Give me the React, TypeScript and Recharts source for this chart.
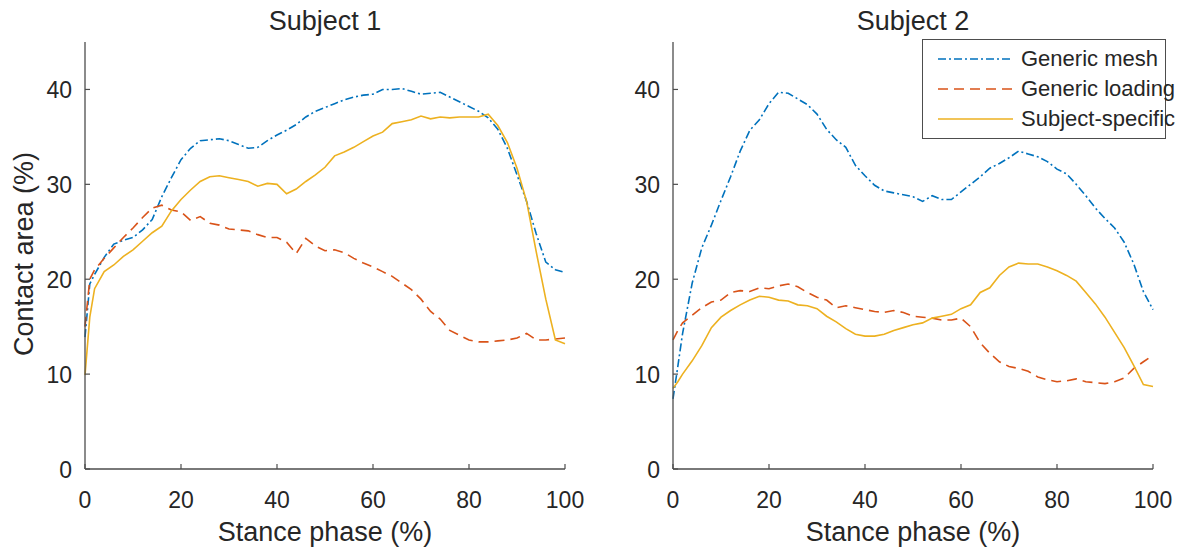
import React from 'react';
import { LineChart, Line, XAxis, YAxis, Legend } from 'recharts';

// stance phase samples (%)
const phase = [0, 1, 2, 4, 6, 8, 10, 12, 14, 16, 18, 20, 22, 24, 26, 28, 30, 32, 34, 36, 38, 40, 42, 44, 46, 48, 50,
  52, 54, 56, 58, 60, 62, 64, 66, 68, 70, 72, 74, 76, 78, 80, 82, 84, 86, 88, 90, 92, 94, 96, 98, 100];

// Subject 1 contact area (%)
const s1Mesh = [13.9, 19.5, 20.5, 22.3, 23.7, 24.1, 24.4, 25.2, 26.3, 28.7, 30.7, 32.6, 33.8, 34.6, 34.7, 34.8, 34.6,
  34.2, 33.8, 33.9, 34.6, 35.2, 35.7, 36.3, 37.1, 37.7, 38.1, 38.5, 38.9, 39.2, 39.4, 39.5, 40.0, 40.0, 40.1, 39.8,
  39.5, 39.6, 39.7, 39.2, 38.7, 38.2, 37.7, 37.0, 35.8, 33.8, 31.0, 28.2, 24.8, 21.8, 21.0, 20.7];
const s1Loading = [15.0, 20.0, 21.0, 22.2, 23.3, 24.4, 25.4, 26.5, 27.5, 27.8, 27.3, 27.1, 26.2, 26.6, 25.9, 25.7, 25.3,
  25.2, 25.1, 24.7, 24.4, 24.4, 23.9, 22.7, 24.3, 23.5, 23.0, 23.1, 22.8, 22.2, 21.7, 21.3, 20.8, 20.3, 19.6, 18.9,
  17.9, 16.6, 15.8, 14.6, 14.1, 13.6, 13.4, 13.4, 13.5, 13.6, 13.8, 14.3, 13.6, 13.6, 13.7, 13.8];
const s1Specific = [9.9, 16.0, 19.0, 20.8, 21.5, 22.4, 23.1, 24.0, 24.9, 25.6, 27.2, 28.4, 29.4, 30.3, 30.8, 30.9, 30.7,
  30.5, 30.3, 29.8, 30.1, 30.0, 29.0, 29.5, 30.3, 31.0, 31.8, 33.0, 33.4, 33.9, 34.5, 35.1, 35.5, 36.4, 36.6, 36.8,
  37.2, 36.9, 37.1, 37.0, 37.1, 37.1, 37.1, 37.4, 36.2, 34.4, 31.7, 28.2, 22.9, 17.9, 13.6, 13.2];

// Subject 2 contact area (%)
const s2Mesh = [7.4, 10.8, 14.3, 19.6, 23.3, 25.7, 28.3, 30.8, 33.5, 35.7, 36.8, 38.5, 39.7, 39.6, 39.0, 38.4, 37.4,
  35.8, 34.7, 33.9, 32.0, 30.9, 29.9, 29.3, 29.1, 28.9, 28.7, 28.2, 28.8, 28.4, 28.4, 29.2, 30.0, 30.8, 31.7, 32.2,
  32.8, 33.5, 33.2, 32.9, 32.4, 31.6, 31.1, 30.0, 28.8, 27.5, 26.4, 25.4, 23.9, 21.6, 18.7, 16.8];
const s2Loading = [13.6, 14.6, 15.4, 16.2, 17.0, 17.6, 17.8, 18.6, 18.8, 18.7, 19.1, 19.0, 19.3, 19.5, 19.2, 18.6, 18.1,
  17.8, 17.0, 17.2, 17.0, 16.8, 16.6, 16.5, 16.7, 16.5, 16.1, 16.0, 15.9, 15.7, 15.7, 15.9, 15.0, 13.3, 12.2, 11.3,
  10.8, 10.6, 10.3, 9.7, 9.4, 9.2, 9.3, 9.5, 9.2, 9.1, 9.0, 9.2, 9.6, 10.6, 11.3, 12.0];
const s2Specific = [8.5, 9.2, 10.0, 11.4, 13.0, 14.9, 16.0, 16.7, 17.3, 17.8, 18.2, 18.1, 17.8, 17.7, 17.3, 17.2, 16.9,
  16.1, 15.5, 14.8, 14.2, 14.0, 14.0, 14.2, 14.6, 14.9, 15.2, 15.4, 15.9, 16.1, 16.3, 16.9, 17.3, 18.6, 19.1, 20.4,
  21.3, 21.7, 21.6, 21.6, 21.3, 20.9, 20.4, 19.8, 18.6, 17.4, 16.0, 14.4, 12.8, 10.9, 8.9, 8.7];

const xTicks = [0, 20, 40, 60, 80, 100];
const yTicks = [0, 10, 20, 30, 40];
const seriesNames = ['Generic mesh', 'Generic loading', 'Subject-specific'];
const titles = ['Subject 1', 'Subject 2'];

const FONT = '"Liberation Sans", Arial, Helvetica, sans-serif';
const INK = '#262626';
const AXIS = '#4d4d4d';

const series = [
  { key: 'mesh', name: seriesNames[0], color: '#0072BD', dash: '8 3 2 3' },
  { key: 'loading', name: seriesNames[1], color: '#D95319', dash: '10 6' },
  { key: 'specific', name: seriesNames[2], color: '#EDB120', dash: undefined as string | undefined },
];

const buildRows = (mesh: number[], loading: number[], specific: number[]) =>
  phase.map((p, i) => ({ phase: p, mesh: mesh[i], loading: loading[i], specific: specific[i] }));

const XTick = (props: any) => {
  const { x, y, payload } = props;
  return (
    <g>
      <line x1={x} x2={x} y1={y} y2={y - 5} stroke={AXIS} strokeWidth={1.2} />
      <text x={x} y={y + 39} textAnchor="middle" fontSize={23} fill={INK} fontFamily={FONT}>
        {payload.value}
      </text>
    </g>
  );
};

const YTick = (props: any) => {
  const { x, y, payload } = props;
  return (
    <g>
      <line x1={x} x2={x + 5} y1={y} y2={y} stroke={AXIS} strokeWidth={1.2} />
      <text x={x - 13} y={y} dy="0.38em" textAnchor="end" fontSize={23} fill={INK} fontFamily={FONT}>
        {payload.value}
      </text>
    </g>
  );
};

const LegendBox = () => (
  <div
    style={{
      position: 'relative',
      width: 244,
      height: 100,
      border: `1px solid ${AXIS}`,
      boxSizing: 'border-box',
      background: '#fff',
      fontFamily: FONT,
      fontSize: 22,
      color: INK,
    }}
  >
    {series.map((s, i) => (
      <div
        key={s.key}
        style={{ position: 'absolute', left: 15, top: 4 + i * 30, height: 30, display: 'flex', alignItems: 'center', whiteSpace: 'nowrap' }}
      >
        <svg width={75} height={4}>
          <line x1={0} x2={75} y1={2} y2={2} stroke={s.color} strokeWidth={1.5} strokeDasharray={s.dash} />
        </svg>
        <span style={{ marginLeft: 8 }}>{s.name}</span>
      </div>
    ))}
  </div>
);

type PanelProps = {
  rows: ReturnType<typeof buildRows>;
  title: string;
  left: number;
  showYLabel: boolean;
  showLegend: boolean;
};

const Panel = ({ rows, title, left, showYLabel, showLegend }: PanelProps) => (
  <div style={{ position: 'absolute', left, top: 0, width: 600, height: 553 }}>
    <div
      style={{
        position: 'absolute',
        left: 85,
        width: 480,
        top: 8,
        textAlign: 'center',
        fontFamily: FONT,
        fontSize: 27,
        lineHeight: '27px',
        color: INK,
      }}
    >
      {title}
    </div>
    <LineChart width={600} height={553} data={rows} margin={{ top: 42, right: 35, bottom: 0, left: 0 }}>
      <XAxis
        dataKey="phase"
        type="number"
        domain={[0, 100]}
        ticks={xTicks}
        height={84}
        tickSize={0}
        tickMargin={0}
        tickLine={false}
        tick={<XTick />}
        axisLine={{ stroke: AXIS, strokeWidth: 1.3 }}
        label={{
          value: 'Stance phase (%)',
          position: 'insideTop',
          offset: 53,
          fontSize: 27,
          fill: INK,
          fontFamily: FONT,
        }}
      />
      <YAxis
        type="number"
        domain={[0, 45]}
        ticks={yTicks}
        width={85}
        tickSize={0}
        tickMargin={0}
        tickLine={false}
        tick={<YTick />}
        axisLine={{ stroke: AXIS, strokeWidth: 1.3 }}
        label={
          showYLabel
            ? {
                content: () => (
                  <text
                    transform="translate(33,254) rotate(-90)"
                    textAnchor="middle"
                    fontSize={27}
                    fill={INK}
                    fontFamily={FONT}
                  >
                    Contact area (%)
                  </text>
                ),
              }
            : undefined
        }
      />
      {showLegend && (
        <Legend
          layout="horizontal"
          verticalAlign="middle"
          align="center"
          content={<LegendBox />}
          wrapperStyle={{ left: 334, top: 39, width: 244, height: 100 }}
        />
      )}
      {series.map((s) => (
        <Line
          key={s.key}
          type="linear"
          dataKey={s.key}
          name={s.name}
          stroke={s.color}
          strokeWidth={1.6}
          strokeDasharray={s.dash}
          dot={false}
          activeDot={false}
          isAnimationActive={false}
        />
      ))}
    </LineChart>
  </div>
);

export default function App() {
  const rows1 = buildRows(s1Mesh, s1Loading, s1Specific);
  const rows2 = buildRows(s2Mesh, s2Loading, s2Specific);
  return (
    <div style={{ position: 'relative', width: 1192, height: 553, background: '#fff' }}>
      <style>{'body{margin:0}'}</style>
      <Panel rows={rows1} title={titles[0]} left={0} showYLabel showLegend={false} />
      <Panel rows={rows2} title={titles[1]} left={588} showYLabel={false} showLegend />
    </div>
  );
}
